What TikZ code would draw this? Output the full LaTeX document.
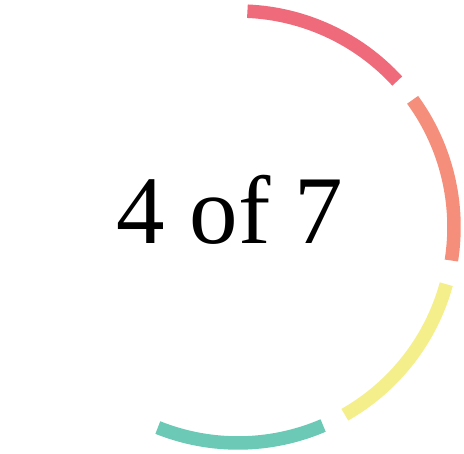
\documentclass[tikz,border=0pt]{standalone}
\usepackage{fontspec}
\setmainfont{Liberation Serif}
\definecolor{segA}{HTML}{EF6A7B}
\definecolor{segB}{HTML}{F58F7B}
\definecolor{segC}{HTML}{F5EF8B}
\definecolor{segD}{HTML}{6BC9B5}
\begin{document}
\begin{tikzpicture}[x=1pt,y=1pt]
\tikzset{seg/.style={line width=13.5pt}}
\useasboundingbox (0,0) rectangle (464,454);
\coordinate (c) at (238,227);
\foreach \k/\col in {0/segA,1/segB,2/segC,3/segD}{
  \pgfmathsetmacro{\sa}{87.5-51.43*\k}
  \pgfmathsetmacro{\ea}{\sa-45}
  \draw[seg,draw=\col] ([shift={(\sa:216)}]c) arc[start angle=\sa, end angle=\ea, radius=216];
}
\node[anchor=base, inner sep=0pt, font=\fontsize{97}{97}\selectfont] (t) at (230,210) {4 of 7};
\end{tikzpicture}
\end{document}
